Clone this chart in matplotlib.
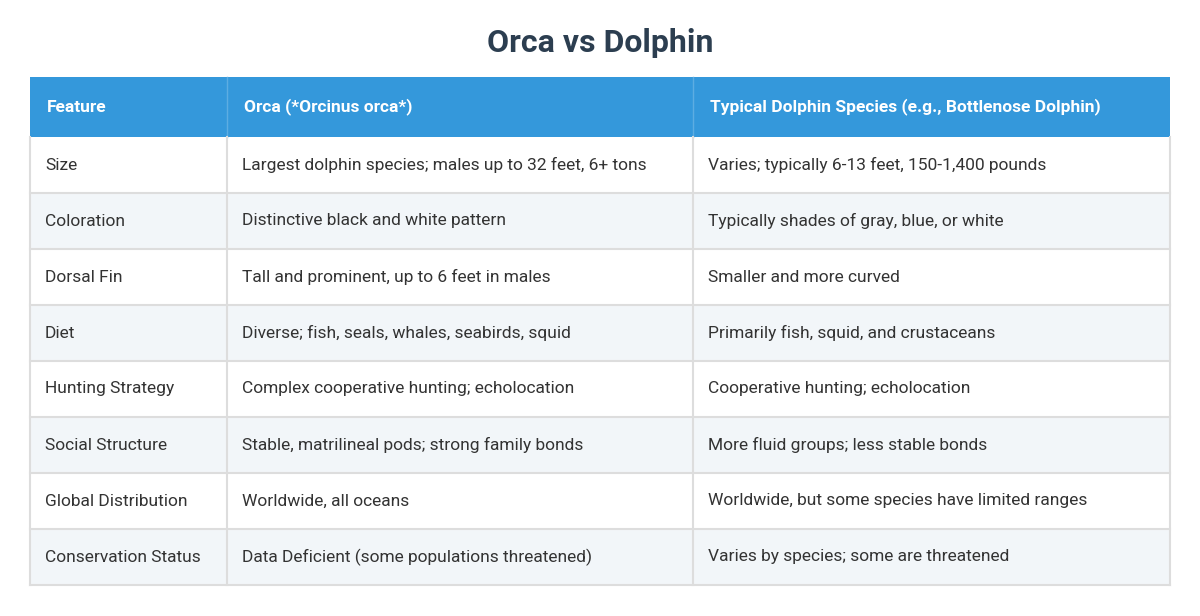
import matplotlib
matplotlib.use("Agg")
import matplotlib.pyplot as plt
from matplotlib.patches import Rectangle

TITLE = "Orca vs Dolphin"
HEADERS = ["Feature", "Orca (*Orcinus orca*)",
           "Typical Dolphin Species (e.g., Bottlenose Dolphin)"]
FEATURES = ["Size", "Coloration", "Dorsal Fin", "Diet", "Hunting Strategy",
            "Social Structure", "Global Distribution", "Conservation Status"]
ORCA = ["Largest dolphin species; males up to 32 feet, 6+ tons",
        "Distinctive black and white pattern",
        "Tall and prominent, up to 6 feet in males",
        "Diverse; fish, seals, whales, seabirds, squid",
        "Complex cooperative hunting; echolocation",
        "Stable, matrilineal pods; strong family bonds",
        "Worldwide, all oceans",
        "Data Deficient (some populations threatened)"]
DOLPHIN = ["Varies; typically 6-13 feet, 150-1,400 pounds",
           "Typically shades of gray, blue, or white",
           "Smaller and more curved",
           "Primarily fish, squid, and crustaceans",
           "Cooperative hunting; echolocation",
           "More fluid groups; less stable bonds",
           "Worldwide, but some species have limited ranges",
           "Varies by species; some are threatened"]

_BLUE = "#3498db"
_ALT = "#f2f6f9"
_LINE = "#dddddd"
_TEXT = "#333333"

W, H = 1200, 616
col_x = [30, 227, 693, 1170]
top, head_h, row_h = 77, 60, 56

fig = plt.figure(figsize=(W / 100, H / 100), dpi=100)
ax = fig.add_axes([0, 0, 1, 1])
ax.set_xlim(0, W)
ax.set_ylim(H, 0)
ax.axis("off")

ax.text(W / 2, 43, TITLE, ha="center", va="center", fontsize=23,
        fontweight="bold", color="#2c3e50", family="Roboto")

# header
ax.add_patch(Rectangle((col_x[0], top), col_x[-1] - col_x[0], head_h,
                       facecolor=_BLUE, edgecolor="none"))
for j, h in enumerate(HEADERS):
    ax.text(col_x[j] + 17, top + head_h / 2, h, ha="left", va="center",
            fontsize=12.5, fontweight="bold", color="white", family="Roboto")
for x in col_x[1:-1]:
    ax.plot([x, x], [top, top + head_h], color="#5dade2", lw=1)

# body
rows = list(zip(FEATURES, ORCA, DOLPHIN))
for i, row in enumerate(rows):
    y0 = top + head_h + i * row_h
    ax.add_patch(Rectangle((col_x[0], y0), col_x[-1] - col_x[0], row_h,
                           facecolor=_ALT if i % 2 else "white",
                           edgecolor="none"))
    for j, val in enumerate(row):
        ax.text(col_x[j] + 15, y0 + row_h / 2, val, ha="left", va="center",
                fontsize=12.5, color=_TEXT, family="Roboto")
    ax.plot([col_x[0], col_x[-1]], [y0 + row_h, y0 + row_h], color=_LINE, lw=1.5)

bottom = top + head_h + len(rows) * row_h
for x in col_x:
    ax.plot([x, x], [top + head_h, bottom], color=_LINE, lw=1.5)

fig.savefig("out.png", dpi=100)
